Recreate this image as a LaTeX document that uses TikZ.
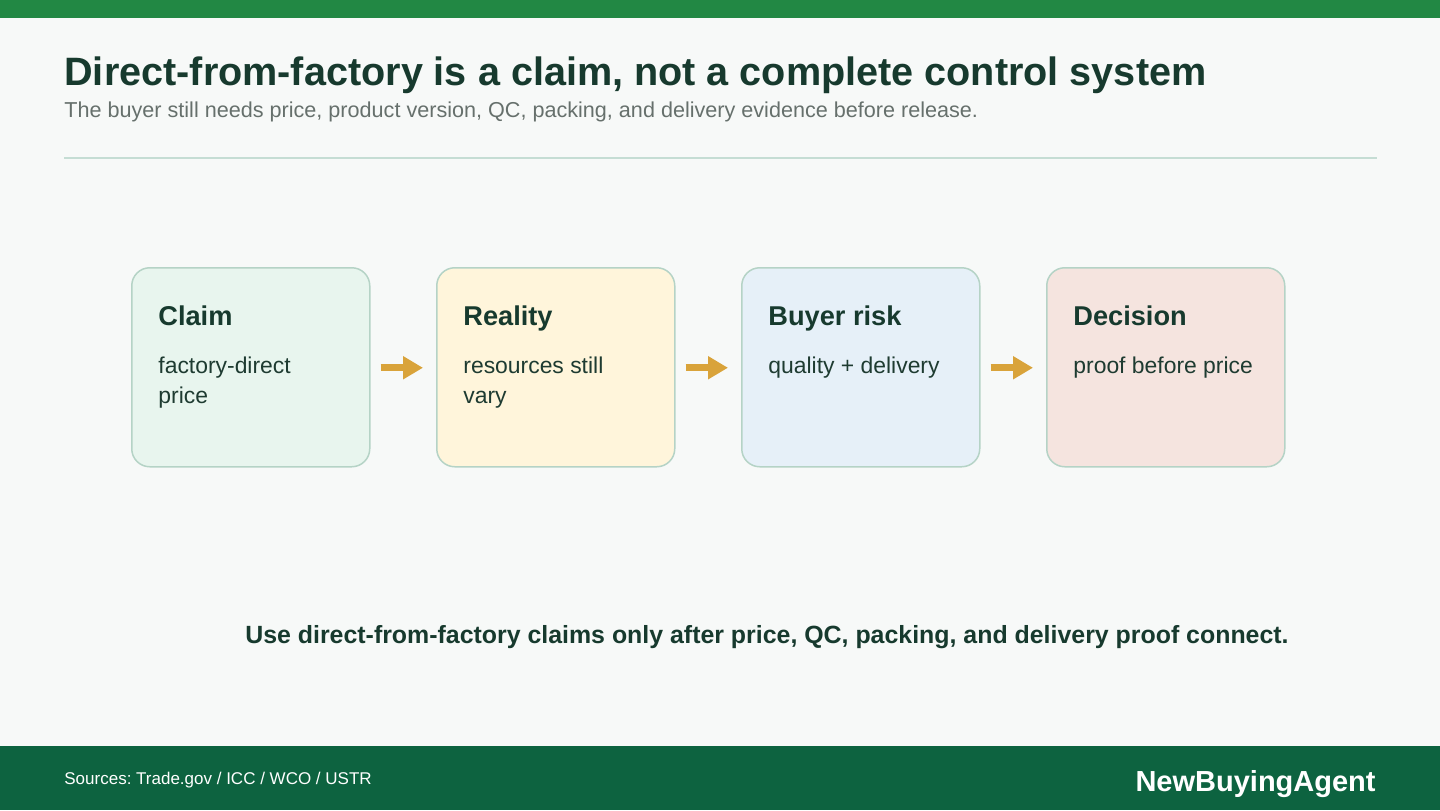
\documentclass[tikz,border=0pt]{standalone}
\usepackage{fontspec}
\setmainfont{Liberation Sans}
\usetikzlibrary{arrows.meta,calc}
\frenchspacing
\definecolor{bg}{HTML}{F7F9F8}
\definecolor{topbar}{HTML}{228844}
\definecolor{footbar}{HTML}{0D6340}
\definecolor{titlec}{HTML}{173A2E}
\definecolor{subc}{HTML}{66706C}
\definecolor{rule}{HTML}{C5DDD4}
\definecolor{boxline}{HTML}{B5D3C6}
\definecolor{fgreen}{HTML}{E8F5EE}
\definecolor{fyellow}{HTML}{FFF5DB}
\definecolor{fblue}{HTML}{E6F0F8}
\definecolor{fpink}{HTML}{F5E4DF}
\definecolor{arrowc}{HTML}{D9A33A}
\definecolor{bodyc}{HTML}{1E3B31}
\tikzset{
  stagebox/.style={draw=boxline, line width=0.75pt, rounded corners=9pt,
    minimum width=119pt, minimum height=99.5pt, inner sep=0pt},
  stagetitle/.style={anchor=base west, inner sep=0pt, text=titlec,
    font=\fontsize{13.6}{15}\selectfont\bfseries},
  stagebody/.style={anchor=base west, inner sep=0pt, text=bodyc, align=left,
    font=\fontsize{11.45}{15}\selectfont},
  flowarrow/.style={draw=arrowc, line width=3.5pt,
    -{Triangle[length=10pt,width=11pt]}},
}
\begin{document}
\begin{tikzpicture}[x=0.5pt,y=-0.5pt]
\useasboundingbox (0,0) rectangle (1440,810);
\fill[bg] (0,0) rectangle (1440,810);
\fill[topbar] (0,0) rectangle (1440,18);
\fill[footbar] (0,746) rectangle (1440,810);
\node[anchor=base west, inner sep=0pt, text=titlec,
  font=\fontsize{19.8}{22}\selectfont\bfseries] (title) at (64,85)
  {Direct-from-factory is a claim, not a complete control system};
\node[anchor=base west, inner sep=0pt, text=subc,
  font=\fontsize{10.8}{12}\selectfont] (subtitle) at (64,117)
  {The buyer still needs price, product version, QC, packing, and delivery evidence before release.};
\draw[rule, line width=1pt] (64,158) -- (1377,158);

\node[stagebox, fill=fgreen, anchor=north west] (b1) at (131,267) {};
\node[stagebox, fill=fyellow, anchor=north west] (b2) at (436,267) {};
\node[stagebox, fill=fblue, anchor=north west] (b3) at (741,267) {};
\node[stagebox, fill=fpink, anchor=north west] (b4) at (1046,267) {};

\node[stagetitle] (t1) at ($(b1.north west)+(27,58)$) {Claim};
\node[stagebody] (d1) at ($(b1.north west)+(27,136)$) {factory-direct\\price};
\node[stagetitle] (t2) at ($(b2.north west)+(27,58)$) {Reality};
\node[stagebody] (d2) at ($(b2.north west)+(27,136)$) {resources still\\vary};
\node[stagetitle] (t3) at ($(b3.north west)+(27,58)$) {Buyer risk};
\node[stagebody] (d3) at ($(b3.north west)+(27,106)$) {quality + delivery};
\node[stagetitle] (t4) at ($(b4.north west)+(27,58)$) {Decision};
\node[stagebody] (d4) at ($(b4.north west)+(27,106)$) {proof before price};

\draw[flowarrow] ($(b1.east)+(10,0.5)$) -- ($(b2.west)+(-13,0.5)$);
\draw[flowarrow] ($(b2.east)+(10,0.5)$) -- ($(b3.west)+(-13,0.5)$);
\draw[flowarrow] ($(b3.east)+(10,0.5)$) -- ($(b4.west)+(-13,0.5)$);

\node[anchor=base, inner sep=0pt, text=titlec,
  font=\fontsize{12.45}{14}\selectfont\bfseries] (note) at (767,643)
  {Use direct-from-factory claims only after price, QC, packing, and delivery proof connect.};

\node[anchor=base west, inner sep=0pt, text=white,
  font=\fontsize{8.5}{10}\selectfont] (sources) at (64,784)
  {Sources: Trade.gov / ICC / WCO / USTR};
\node[anchor=base east, inner sep=0pt, text=white,
  font=\fontsize{14.5}{16}\selectfont\bfseries] (brand) at (1376,791)
  {NewBuyingAgent};
\end{tikzpicture}
\end{document}
